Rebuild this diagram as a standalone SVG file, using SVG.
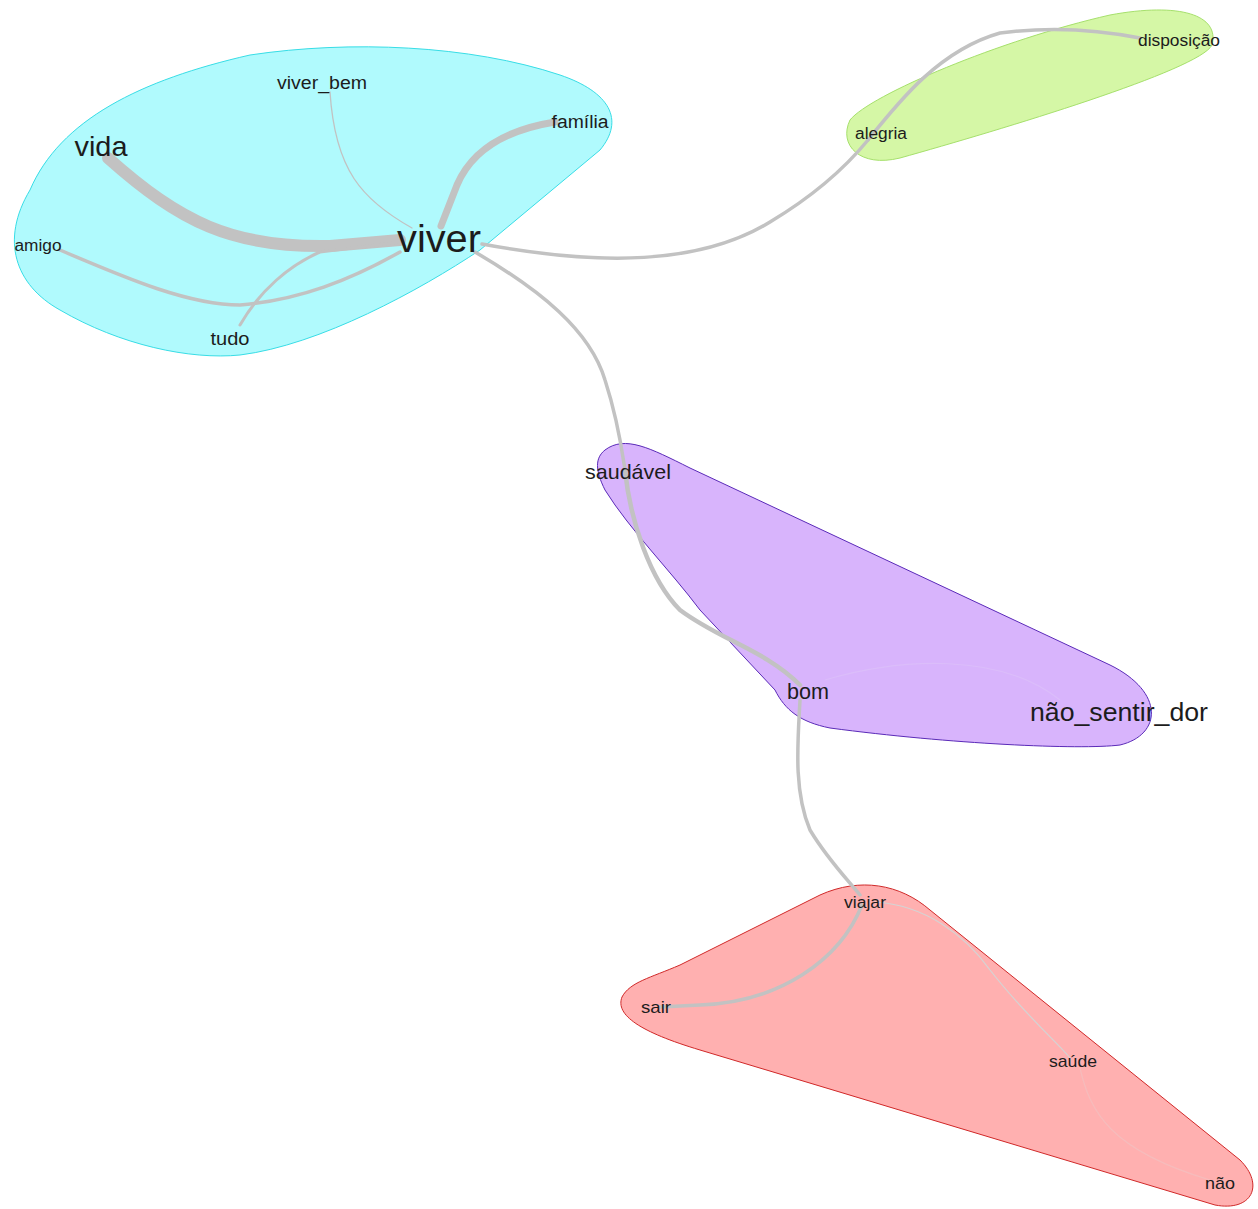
<svg xmlns="http://www.w3.org/2000/svg" width="1258" height="1209" viewBox="0 0 1258 1209">
<style>
text{font-family:"Liberation Sans",Arial,sans-serif;fill:#1c1c1c;text-anchor:middle;dominant-baseline:central}
.e{fill:none;stroke:#c2c2c2;stroke-linecap:round}
.f{fill:none;stroke-width:1.2}
</style>
<rect width="1258" height="1209" fill="#fff"/>
<g id="hulls">
<path id="hull-cyan" d="M30,190 C60,120 140,80 250,55 C350,40 470,45 560,75 C610,92 625,120 600,150 L480,250 C420,290 320,345 240,355 C190,360 120,345 60,310 C15,285 0,240 30,190 Z" fill="#b0fafd" stroke="#38dde6" stroke-width="1"/>
<path id="hull-green" d="M850,120 C870,95 1000,40 1110,15 C1180,2 1220,15 1212,45 C1200,70 1000,130 900,158 C860,168 838,145 850,120 Z" fill="#d5f7a6" stroke="#a6e06c" stroke-width="1"/>
<path id="hull-purple" d="M605,450 C625,435 650,448 690,468 L1110,665 C1165,692 1162,735 1120,745 C1080,750 950,744 830,728 C800,722 785,710 775,690 L700,610 C670,570 630,530 605,490 C595,470 595,458 605,450 Z" fill="#d8b4fc" stroke="#5a2ab8" stroke-width="1"/>
<path id="hull-red" d="M680,965 L820,895 C860,877 900,884 930,910 L1240,1160 C1265,1185 1252,1212 1215,1205 L700,1050 C640,1032 615,1015 622,997 C630,982 650,978 680,965 Z" fill="#ffb0b0" stroke="#d02828" stroke-width="1"/>
</g>
<g id="connectors">
<path class="e" stroke-width="12" d="M108,158 C180,222 232,248 330,246 L400,240"/>
<path class="e" stroke-width="7" d="M555,122 C505,130 472,150 457,185 L441,226"/>
<path class="e" stroke-width="1.3" d="M330,92 C335,170 362,200 412,228"/>
<path class="e" stroke-width="3.5" d="M60,250 C130,280 190,305 240,305 C300,300 350,280 400,252"/>
<path class="e" stroke-width="3" d="M240,325 C260,290 290,265 320,252 L400,242"/>
<path class="e" stroke-width="3.5" d="M482,244 C600,266 700,265 770,222 C820,192 850,162 868,140"/>
<path class="e" stroke-width="3.5" d="M868,140 C900,100 940,50 1000,33 C1060,25 1110,32 1140,38"/>
<path class="e" stroke-width="3.5" d="M475,252 C540,290 590,330 605,380 C618,420 622,450 625,470"/>
<path class="e" stroke-width="4.5" d="M625,470 C630,520 650,580 680,610 C720,640 765,650 800,685"/>
<path class="e" stroke-width="3.5" d="M800,700 C798,740 793,790 810,830 C828,860 848,880 860,895"/>
<path class="e" stroke-width="3.5" d="M862,905 C840,960 780,1002 700,1005 L660,1007"/>
<path class="e" stroke-width="1.2" d="M875,902 C925,905 965,935 990,970 C1025,1015 1060,1045 1070,1058" style="stroke:#d4d4d4"/>
<path class="f" d="M1080,1068 C1090,1112 1110,1150 1210,1180" stroke="#f6bcbc"/>
<path class="f" d="M825,680 C900,658 1000,652 1060,700" stroke="#dbbdfa"/>
</g>
<g id="node-vida"><text x="101" y="146" font-size="28" textLength="53" lengthAdjust="spacingAndGlyphs">vida</text></g>
<g id="node-viver"><text x="439" y="238" font-size="39" textLength="84" lengthAdjust="spacingAndGlyphs">viver</text></g>
<g id="node-viver_bem"><text x="322" y="83" font-size="18" textLength="90" lengthAdjust="spacingAndGlyphs">viver_bem</text></g>
<g id="node-familia"><text x="580" y="122" font-size="18" textLength="57" lengthAdjust="spacingAndGlyphs">família</text></g>
<g id="node-amigo"><text x="38" y="245" font-size="16" textLength="47" lengthAdjust="spacingAndGlyphs">amigo</text></g>
<g id="node-tudo"><text x="230" y="338" font-size="19" textLength="39" lengthAdjust="spacingAndGlyphs">tudo</text></g>
<g id="node-alegria"><text x="881" y="133" font-size="16" textLength="52" lengthAdjust="spacingAndGlyphs">alegria</text></g>
<g id="node-disposicao"><text x="1179" y="40" font-size="16" textLength="82" lengthAdjust="spacingAndGlyphs">disposição</text></g>
<g id="node-saudavel"><text x="628" y="471" font-size="21" textLength="86" lengthAdjust="spacingAndGlyphs">saudável</text></g>
<g id="node-bom"><text x="808" y="691" font-size="22" textLength="42" lengthAdjust="spacingAndGlyphs">bom</text></g>
<g id="node-nao_sentir_dor"><text x="1119" y="712" font-size="26" textLength="178" lengthAdjust="spacingAndGlyphs">não_sentir_dor</text></g>
<g id="node-viajar"><text x="865" y="902" font-size="16" textLength="42" lengthAdjust="spacingAndGlyphs">viajar</text></g>
<g id="node-sair"><text x="656" y="1007" font-size="17" textLength="30" lengthAdjust="spacingAndGlyphs">sair</text></g>
<g id="node-saude"><text x="1073" y="1061" font-size="17" textLength="48" lengthAdjust="spacingAndGlyphs">saúde</text></g>
<g id="node-nao"><text x="1220" y="1183" font-size="17" textLength="30" lengthAdjust="spacingAndGlyphs">não</text></g>
</svg>
